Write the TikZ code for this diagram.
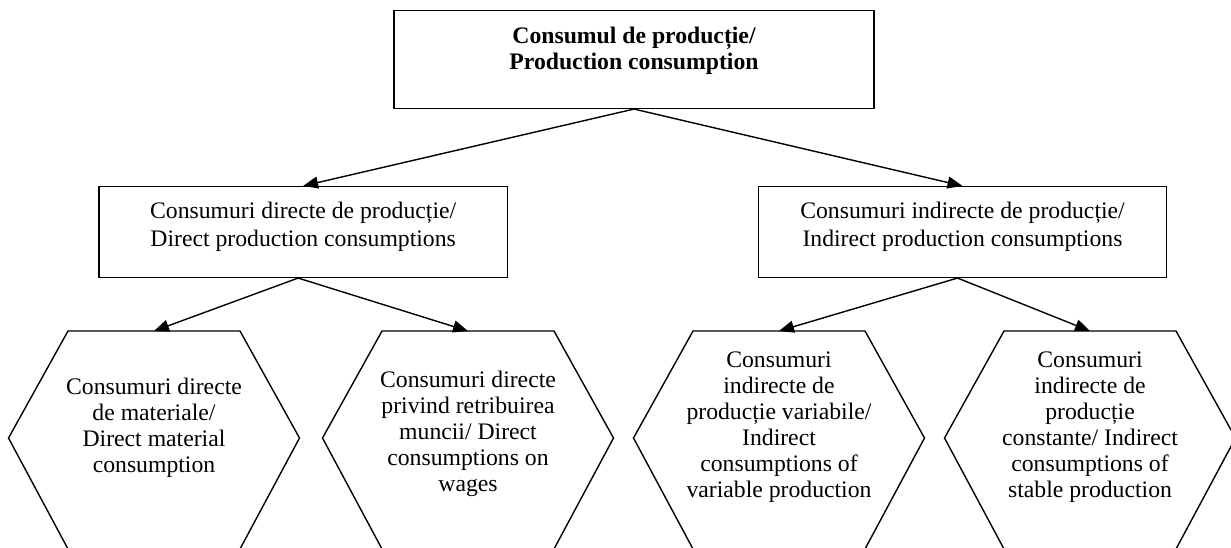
\documentclass[tikz,border=0pt]{standalone}
\usepackage{fontspec}
\setmainfont{Liberation Serif}
\usetikzlibrary{arrows.meta}
\begin{document}
\begin{tikzpicture}[x=1pt,y=-1pt,
  boxshape/.style={draw=black,line width=1.5pt,inner sep=0pt},
  txt/.style={align=center,inner sep=0pt,font=\fontsize{23.7}{28}\selectfont},
  hextxt/.style={align=center,inner sep=0pt,font=\fontsize{23.7}{26}\selectfont},
  hexline/.style={draw=black,line width=1.4pt,line join=miter},
  conn/.style={line width=1.4pt,-{Triangle[length=15pt,width=12pt]}}
]
\useasboundingbox (0,0) rectangle (1231,547);
\clip (0,0) rectangle (1231,547);
\fill[white] (0,0) rectangle (1231,547);

% top box
\node[boxshape,minimum width=480pt,minimum height=97.6pt] (top) at (634,59.5) {};
\node[txt,font=\fontsize{23.7}{26.5}\selectfont\bfseries] (toptxt) at (634,51) {Consumul de producție/\\Production consumption};

% middle boxes
\node[boxshape,minimum width=408.3pt,minimum height=90.6pt] (L) at (303.15,232) {};
\node[txt] (Ltxt) at (303.15,227) {Consumuri directe de producție/\\Direct production consumptions};
\node[boxshape,minimum width=408.4pt,minimum height=90.6pt] (R) at (962.5,232) {};
\node[txt] (Rtxt) at (962.5,227) {Consumuri indirecte de producție/\\Indirect production consumptions};

% hexagons
\foreach \cx/\nm in {154/h1,468/h2,779/h3,1090/h4}{
  \draw[hexline] (\cx-86,331) -- (\cx+86,331) -- (\cx+145.5,438) -- (\cx+86,549)
     -- (\cx-86,549) -- (\cx-145.5,438) -- cycle;
  \coordinate (\nm top) at (\cx,331);
}
\node[hextxt] (h1txt) at (154,428) {Consumuri directe\\de materiale/\\Direct material\\consumption};
\node[hextxt] (h2txt) at (468,434) {Consumuri directe\\privind retribuirea\\muncii/ Direct\\consumptions on\\wages};
\node[hextxt] (h3txt) at (779,427) {Consumuri\\indirecte de\\producție variabile/\\Indirect\\consumptions of\\variable production};
\node[hextxt] (h4txt) at (1090,427) {Consumuri\\indirecte de\\producție\\constante/ Indirect\\consumptions of\\stable production};

% connectors
\draw[conn] (top.south) -- (L.north);
\draw[conn] (top.south) -- (R.north);
\draw[conn] ([xshift=-5pt]L.south) -- (h1top);
\draw[conn] ([xshift=-5pt]L.south) -- (h2top);
\draw[conn] ([xshift=-5pt]R.south) -- (h3top);
\draw[conn] ([xshift=-5pt]R.south) -- (h4top);
\end{tikzpicture}
\end{document}
